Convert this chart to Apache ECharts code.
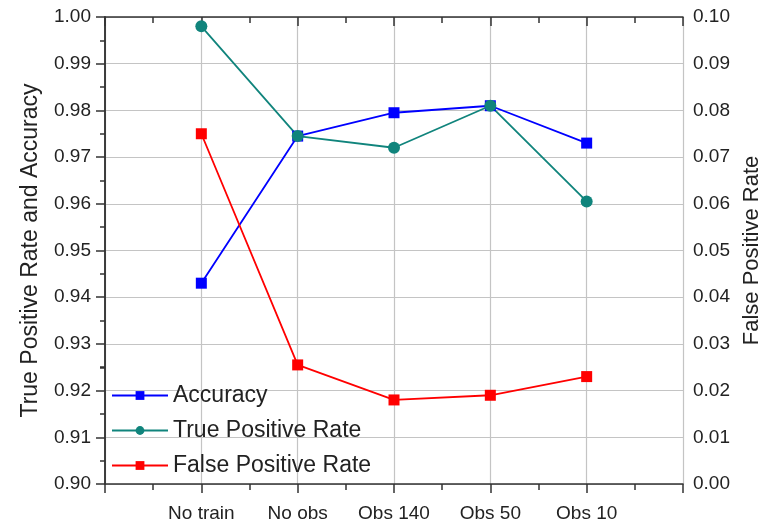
<!DOCTYPE html>
<html>
<head>
<meta charset="utf-8">
<script src="https://cdn.jsdelivr.net/npm/echarts@6/dist/echarts.min.js"></script>
<style>
html,body{margin:0;padding:0;background:#fff;}
#c{width:763px;height:524px;}
</style>
</head>
<body>
<div id="c"></div>
<script>
var categories = ['No train', 'No obs', 'Obs 140', 'Obs 50', 'Obs 10'];
var accuracy = [0.943, 0.9745, 0.9795, 0.981, 0.973];
var truePositiveRate = [0.998, 0.9745, 0.972, 0.981, 0.9605];
var falsePositiveRate = [0.075, 0.0255, 0.018, 0.019, 0.023];
var leftTicks = [0.90, 1.00, 0.01];
var rightTicks = [0.00, 0.10, 0.01];

function toPoints(arr) { return arr.map(function (v, i) { return [i + 1, v]; }); }

var FONT = 'Liberation Sans';
var axisColor = '#333';
var gridColor = '#c4c4c4';

var chart = echarts.init(document.getElementById('c'));
chart.setOption({
  animation: false,
  backgroundColor: '#fff',
  grid: { left: 105, right: 80, top: 17, bottom: 40, containLabel: false, outerBoundsMode: 'none' },
  legend: {
    orient: 'vertical',
    left: 106,
    top: 379,
    itemWidth: 56,
    itemHeight: 11,
    itemGap: 12,
    textStyle: { fontFamily: FONT, fontSize: 23, color: '#222' },
    data: ['Accuracy', 'True Positive Rate', 'False Positive Rate']
  },
  xAxis: [{
    type: 'value', min: 0, max: 6, interval: 1, position: 'bottom',
    axisLine: { lineStyle: { color: axisColor, width: 1.5 } },
    axisTick: { show: true, inside: false, length: 9, lineStyle: { color: axisColor, width: 1.5 } },
    minorTick: { show: true, splitNumber: 2, length: 6, lineStyle: { color: axisColor, width: 1.5 } },
    splitLine: { show: true, lineStyle: { color: gridColor, width: 1.2 } },
    axisLabel: {
      fontFamily: FONT, fontSize: 19, color: '#222', margin: 20,
      formatter: function (v) { return categories[v - 1] || ''; }
    }
  }, {
    type: 'value', min: 0, max: 6, interval: 1, position: 'top',
    axisLine: { show: true, lineStyle: { color: axisColor, width: 1.5 } },
    axisTick: { show: true, inside: true, length: 9, lineStyle: { color: axisColor, width: 1.5 } },
    minorTick: { show: true, splitNumber: 2, length: 6, lineStyle: { color: axisColor, width: 1.5 } },
    splitLine: { show: false },
    axisLabel: { show: false }
  }],
  yAxis: [{
    type: 'value', min: leftTicks[0], max: leftTicks[1], interval: leftTicks[2], position: 'left',
    name: 'True Positive Rate and Accuracy', nameLocation: 'middle', nameGap: 63,
    nameTextStyle: { fontFamily: FONT, fontSize: 23, color: '#222' },
    axisLine: { show: true, lineStyle: { color: axisColor, width: 1.5 } },
    axisTick: { show: true, inside: false, length: 9, lineStyle: { color: axisColor, width: 1.5 } },
    minorTick: { show: true, splitNumber: 2, length: 5, lineStyle: { color: axisColor, width: 1.5 } },
    splitLine: { show: true, lineStyle: { color: gridColor, width: 1.2 } },
    axisLabel: {
      fontFamily: FONT, fontSize: 19, color: '#222', margin: 14,
      formatter: function (v) { return v.toFixed(2); }
    }
  }, {
    type: 'value', min: rightTicks[0], max: rightTicks[1], interval: rightTicks[2], position: 'right',
    name: 'False Positive Rate', nameLocation: 'middle', nameGap: 58, nameRotate: 90,
    nameTextStyle: { fontFamily: FONT, fontSize: 22, color: '#222' },
    axisLine: { show: true, lineStyle: { color: axisColor, width: 1.5 } },
    axisTick: { show: true, inside: true, length: 7, lineStyle: { color: axisColor, width: 1.5 } },
    minorTick: { show: true, splitNumber: 2, length: 5, lineStyle: { color: axisColor, width: 1.5 } },
    splitLine: { show: false },
    axisLabel: {
      fontFamily: FONT, fontSize: 19, color: '#222', margin: 10,
      formatter: function (v) { return v.toFixed(2); }
    }
  }],
  series: [{
    name: 'Accuracy', type: 'line', xAxisIndex: 0, yAxisIndex: 0,
    data: toPoints(accuracy),
    symbol: 'rect', symbolSize: 11,
    lineStyle: { color: '#0000ff', width: 1.8 },
    itemStyle: { color: '#0000ff' }
  }, {
    name: 'True Positive Rate', type: 'line', xAxisIndex: 0, yAxisIndex: 0,
    data: toPoints(truePositiveRate),
    symbol: 'circle', symbolSize: 12,
    lineStyle: { color: '#10847c', width: 1.8 },
    itemStyle: { color: '#10847c' }
  }, {
    name: 'False Positive Rate', type: 'line', xAxisIndex: 0, yAxisIndex: 1,
    data: toPoints(falsePositiveRate),
    symbol: 'rect', symbolSize: 11,
    lineStyle: { color: '#ff0000', width: 1.8 },
    itemStyle: { color: '#ff0000' }
  }]
});
</script>
</body>
</html>
